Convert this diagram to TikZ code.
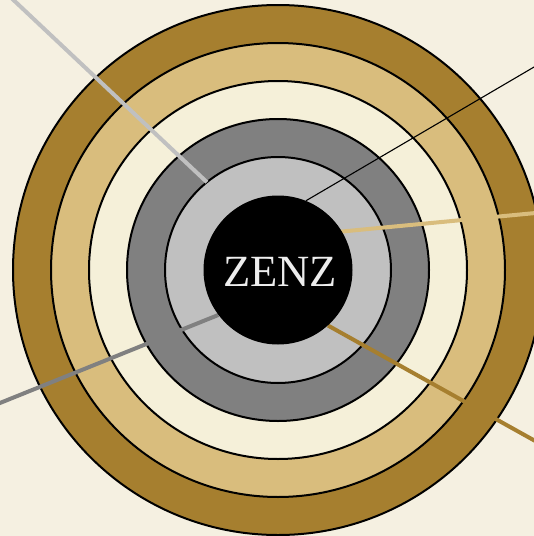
\documentclass[tikz,border=0pt]{standalone}
\usepackage{fontspec}
\newfontfamily\zenzfont{Liberation Serif}
\usetikzlibrary{backgrounds}
\definecolor{bgc}{HTML}{F5F0E1}
\definecolor{brownc}{HTML}{A67F2F}
\definecolor{tanc}{HTML}{D9BD7D}
\definecolor{creamc}{HTML}{F5F0D9}
\definecolor{grayc}{HTML}{808080}
\definecolor{silverc}{HTML}{C0C0C0}
\pgfdeclarelayer{rings}
\pgfdeclarelayer{lines}
\pgfsetlayers{background,rings,lines,main}
\begin{document}
\begin{tikzpicture}[x=1pt,y=-1pt,
  ring/.style={circle,draw=black,line width=2pt,inner sep=0pt,outer sep=0pt},
  ray/.style={line width=4pt},
  thinray/.style={line width=1.1pt,draw=black}]
\useasboundingbox (0,0) rectangle (534,536);
\begin{pgfonlayer}{background}
\fill[bgc] (0,0) rectangle (534,536);
\end{pgfonlayer}
\begin{pgfonlayer}{rings}
\node[ring,fill=brownc,minimum size=530pt] (r1) at (278,270) {};
\node[ring,fill=tanc,minimum size=454pt] (r2) at (278,270) {};
\node[ring,fill=creamc,minimum size=378pt] (r3) at (278,270) {};
\node[ring,fill=grayc,minimum size=302pt] (r4) at (278,270) {};
\node[ring,fill=silverc,minimum size=226pt] (r5) at (278,270) {};
\end{pgfonlayer}
\node[circle,fill=black,inner sep=0pt,minimum size=149pt] (core) at (278,270) {};
\node[text=white!93!black,inner sep=0pt,
  font=\zenzfont\fontsize{44.6}{52}\selectfont] (label) at (280,271.5) {ZENZ};
\coordinate (tl) at (5,-8);
\coordinate (tr) at (546,60);
\coordinate (rt) at (546,212);
\coordinate (lb) at (-10,407);
\coordinate (rb) at (546,447);
\begin{pgfonlayer}{lines}
\draw[ray,silverc] (tl) -- (r5.129);
\draw[thinray] (tr) -- (core.68);
\draw[ray,tanc,shorten >=-4pt] (rt) -- (core.31);
\draw[ray,grayc] (lb) -- (core.217);
\draw[ray,brownc] (rb) -- (core.-48);
\end{pgfonlayer}
\end{tikzpicture}
\end{document}
